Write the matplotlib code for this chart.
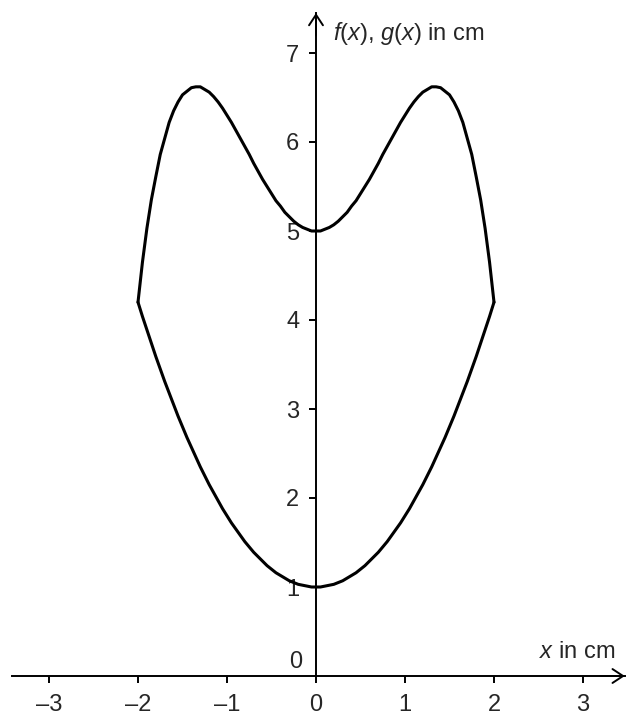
import matplotlib
matplotlib.use("Agg")
import matplotlib.pyplot as plt

# Values (cm)
x_vals = [-2.0, -1.95, -1.9, -1.85, -1.8, -1.75, -1.7, -1.65, -1.6, -1.55,
          -1.5, -1.45, -1.4, -1.35, -1.3, -1.25, -1.2, -1.15, -1.1, -1.05,
          -1.0, -0.95, -0.9, -0.85, -0.8, -0.75, -0.7, -0.65, -0.6, -0.55,
          -0.5, -0.45, -0.4, -0.35, -0.3, -0.25, -0.2, -0.15, -0.1, -0.05,
          0.0, 0.05, 0.1, 0.15, 0.2, 0.25, 0.3, 0.35, 0.4, 0.45,
          0.5, 0.55, 0.6, 0.65, 0.7, 0.75, 0.8, 0.85, 0.9, 0.95,
          1.0, 1.05, 1.1, 1.15, 1.2, 1.25, 1.3, 1.35, 1.4, 1.45,
          1.5, 1.55, 1.6, 1.65, 1.7, 1.75, 1.8, 1.85, 1.9, 1.95, 2.0]
f_vals = [4.20, 4.65, 5.03, 5.35, 5.61, 5.86, 6.04, 6.22, 6.35, 6.45,
          6.53, 6.57, 6.61, 6.62, 6.62, 6.59, 6.56, 6.51, 6.45, 6.38,
          6.30, 6.22, 6.13, 6.04, 5.95, 5.86, 5.76, 5.67, 5.58, 5.50,
          5.42, 5.34, 5.28, 5.21, 5.16, 5.11, 5.07, 5.04, 5.02, 5.00,
          5.00, 5.00, 5.02, 5.04, 5.07, 5.11, 5.16, 5.21, 5.28, 5.34,
          5.42, 5.50, 5.58, 5.67, 5.76, 5.86, 5.95, 6.04, 6.13, 6.22,
          6.30, 6.38, 6.45, 6.51, 6.56, 6.59, 6.62, 6.62, 6.61, 6.57,
          6.53, 6.45, 6.35, 6.22, 6.04, 5.86, 5.61, 5.35, 5.03, 4.65, 4.20]
g_vals = [4.20, 4.04, 3.89, 3.74, 3.59, 3.45, 3.31, 3.18, 3.05, 2.92,
          2.80, 2.68, 2.57, 2.46, 2.35, 2.25, 2.15, 2.06, 1.97, 1.88,
          1.80, 1.72, 1.65, 1.58, 1.51, 1.45, 1.39, 1.34, 1.29, 1.24,
          1.20, 1.16, 1.13, 1.10, 1.07, 1.05, 1.03, 1.02, 1.01, 1.00,
          1.00, 1.00, 1.01, 1.02, 1.03, 1.05, 1.07, 1.10, 1.13, 1.16,
          1.20, 1.24, 1.29, 1.34, 1.39, 1.45, 1.51, 1.58, 1.65, 1.72,
          1.80, 1.88, 1.97, 2.06, 2.15, 2.25, 2.35, 2.46, 2.57, 2.68,
          2.80, 2.92, 3.05, 3.18, 3.31, 3.45, 3.59, 3.74, 3.89, 4.04, 4.20]

x_ticks = [-3, -2, -1, 0, 1, 2, 3]
y_ticks = [1, 2, 3, 4, 5, 6, 7]

text_col = "#262626"
plt.rcParams["font.family"] = ["Liberation Sans", "DejaVu Sans"]
plt.rcParams["mathtext.fontset"] = "custom"
plt.rcParams["mathtext.rm"] = "Liberation Sans"
plt.rcParams["mathtext.it"] = "Liberation Sans:italic"

fig = plt.figure(figsize=(6.26, 7.15), dpi=100)
ax = fig.add_axes([0, 0, 1, 1])
ax.set_xlim(-316 / 89, 310 / 89)
ax.set_ylim(-39 / 89, 676 / 89)
ax.patch.set_visible(False)

# axes through the origin
for side in ["top", "right"]:
    ax.spines[side].set_visible(False)
ax.spines["left"].set_position(("data", 0))
ax.spines["bottom"].set_position(("data", 0))
ax.spines["left"].set_bounds(0, 7.45)
ax.spines["bottom"].set_bounds(-3.42, 3.47)
for side in ["left", "bottom"]:
    ax.spines[side].set_linewidth(1.4)
    ax.spines[side].set_color("black")

arrow = dict(arrowstyle="->, head_length=0.38, head_width=0.25",
             lw=1.4, color="black", shrinkA=0, shrinkB=0, mutation_scale=20)
ax.annotate("", xy=(3.47, 0), xytext=(3.2, 0), arrowprops=arrow)
ax.annotate("", xy=(0, 7.45), xytext=(0, 7.2), arrowprops=arrow)

ax.set_xticks(x_ticks)
ax.set_xticklabels([str(v).replace("-", "\u2013") for v in x_ticks])
ax.set_yticks(y_ticks)
ax.set_yticklabels([str(v) for v in y_ticks])
ax.tick_params(axis="x", direction="out", length=5, width=1.4, pad=8,
               labelsize=17, labelcolor=text_col)
ax.tick_params(axis="y", direction="out", length=5, width=1.4, pad=7,
               labelsize=17, labelcolor=text_col)

# curves
ax.plot(x_vals, f_vals, color="black", lw=2.2, solid_joinstyle="round",
        solid_capstyle="round")
ax.plot(x_vals, g_vals, color="black", lw=2.2, solid_joinstyle="round",
        solid_capstyle="round")

ax.text(-0.16, 0.09, "0", ha="right", va="baseline", fontsize=17,
        color=text_col)
ax.text(3.36, 0.2, r"$x$ in cm", ha="right", va="baseline", fontsize=17,
        color=text_col)
ax.text(0.19, 7.15, r"$f$($x$), $g$($x$) in cm", ha="left", va="baseline",
        fontsize=17, color=text_col)

fig.savefig("out.png", dpi=100)
